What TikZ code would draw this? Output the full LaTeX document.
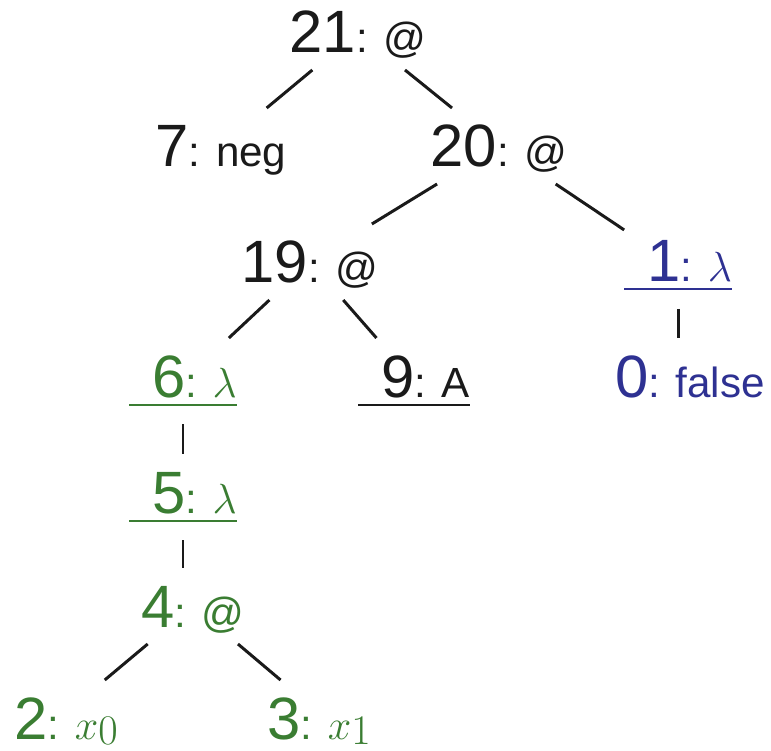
\documentclass[tikz,border=0pt]{standalone}
\usepackage{fix-cm}
\usepackage[no-math]{fontspec}
\setmainfont{Liberation Sans}
\definecolor{treeink}{HTML}{1A1A1A}
\definecolor{treegreen}{HTML}{3A7D32}
\definecolor{treeblue}{HTML}{2E3192}
\newcommand{\nsz}{\fontsize{34}{38}\selectfont}
\newcommand{\lsz}{\fontsize{24}{28}\selectfont}
\newcommand{\term}[2]{{\nsz #1}{\lsz : #2}}
\newcommand{\uterm}[2]{{\nsz\hspace*{0.46cm}#1}{\lsz : #2}}
\newcommand{\xsub}[1]{$x\lower0.1cm\hbox{$#1$}$}
\tikzset{
  treenode/.style={anchor=base, inner sep=0pt, outer sep=0pt, text height=1.18cm, text depth=0.34cm},
  ulnode/.style={treenode, text depth=0.54cm},
  leafnode/.style={treenode, text depth=0.12cm},
  branch/.style={draw=treeink, line width=1.7pt},
  ulrule/.style={line width=1.5pt}
}

\begin{document}
\begin{tikzpicture}
      \useasboundingbox (0,0) rectangle (15.42,-15.02);
      % upper part of the tree
      \node[treenode, treeink] (n21) at (7.16,-1.06) {\term{21}{@}};
      \node[treenode, treeink] (n7) at (4.42,-3.34) {\term{7}{neg}};
      \node[treenode, treeink] (n20) at (9.98,-3.34) {\term{20}{@}};
      \node[treenode, treeink] (n19) at (6.20,-5.66) {\term{19}{@}};
      \node[ulnode, treeblue] (n1) at (13.56,-5.64) {\uterm{1}{$\lambda$}};
      \node[treenode, treeblue] (n0) at (13.80,-7.94) {\term{0}{false}};
      \node[ulnode, treeink] (n9) at (8.28,-7.94) {\uterm{9}{A}};
      % green part
      \node[ulnode, treegreen] (n6) at (3.66,-7.94) {\uterm{6}{$\lambda$}};
      \node[ulnode, treegreen] (n5) at (3.66,-10.26) {\uterm{5}{$\lambda$}};
      \node[treenode, treegreen] (n4) at (3.86,-12.54) {\term{4}{@}};
      \node[leafnode, treegreen] (n2) at (1.32,-14.78) {\term{2}{\xsub{0}}};
      \node[leafnode, treegreen] (n3) at (6.38,-14.78) {\term{3}{\xsub{1}}};

      % underlines
      \draw[ulrule, treeblue] ([yshift=-0.14cm]n1.base west) -- ([yshift=-0.14cm]n1.base east);
      \draw[ulrule, treeink] ([yshift=-0.16cm]n9.base west) -- ([yshift=-0.16cm]n9.base east);
      \draw[ulrule, treegreen] ([yshift=-0.16cm]n6.base west) -- ([yshift=-0.16cm]n6.base east);
      \draw[ulrule, treegreen] ([yshift=-0.16cm]n5.base west) -- ([yshift=-0.16cm]n5.base east);

      % branches
      \draw[branch] (n21) -- (n7);
      \draw[branch] (n21) -- (n20);
      \draw[branch] (n20) -- (n19);
      \draw[branch] (n20) -- (n1);
      \draw[branch] (n19) -- (n6);
      \draw[branch] (n19) -- (n9);
      \draw[branch] (n1) -- (n1 |- n0.north);
      \draw[branch] (n6) -- (n5);
      \draw[branch] (n5) -- (n5 |- n4.north);
      \draw[branch] (n4) -- (n2);
      \draw[branch] (n4) -- (n3);
\end{tikzpicture}
\end{document}
